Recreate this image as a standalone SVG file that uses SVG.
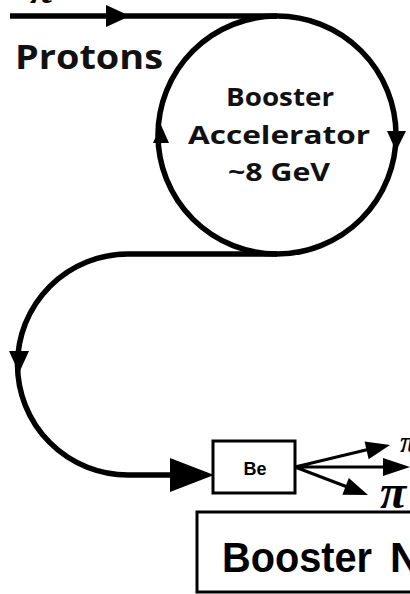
<svg xmlns="http://www.w3.org/2000/svg" width="410" height="594" viewBox="0 0 410 594">
<style>
.ln{fill:none;stroke:#000;stroke-width:5.5}
.thin{fill:none;stroke:#000;stroke-width:3}
.ah{fill:#000;stroke:none}
.lbl{font-family:"Open Sans","Liberation Sans",sans-serif;font-weight:700;fill:#111}
.ar{font-family:"Liberation Sans",Arial,sans-serif;font-weight:700;fill:#000}
.pi{font-family:"Liberation Serif","DejaVu Serif",serif;font-style:italic;font-weight:700;fill:#000}
</style>
<rect width="410" height="594" fill="#fff"/>
<g id="connectors">
  <path class="ln" d="M10 16 H277"/>
  <polygon class="ah" points="106,5 130,16 106,27"/>
  <path class="ln" d="M277 254 H128 A110.5 110.5 0 0 0 128 475 H175"/>
  <polygon class="ah" points="19,373 9,351 29,351"/>
  <polygon class="ah" points="170,458 214,475 170,492"/>
  <path class="thin" d="M295 467 L370 449 M295 467 L388 467 M295 467 L350 488"/>
  <polygon class="ah" points="390,445 368.6,459.2 364.6,441.6"/>
  <polygon class="ah" points="410,467 383,458 383,476"/>
  <polygon class="ah" points="368,495 342.4,494.8 348.8,478"/>
</g>
<g id="booster-accelerator">
  <circle cx="277" cy="135" r="119" class="ln"/>
  <polygon class="ah" points="161,125 153,143 169,143"/>
  <polygon class="ah" points="396,151 387,131 406,131"/>
  <text class="lbl" x="280" y="106" font-size="25" text-anchor="middle" textLength="108" lengthAdjust="spacingAndGlyphs">Booster</text>
  <text class="lbl" x="279" y="144" font-size="25" text-anchor="middle" textLength="182" lengthAdjust="spacingAndGlyphs">Accelerator</text>
  <text class="lbl" x="279" y="181" font-size="25" text-anchor="middle" textLength="102" lengthAdjust="spacingAndGlyphs">~8 GeV</text>
</g>
<g id="protons">
  <text class="lbl" x="15" y="69" font-size="34" textLength="148" lengthAdjust="spacingAndGlyphs">Protons</text>
</g>
<g id="be-target">
  <rect x="213" y="441" width="82" height="52" class="thin" stroke-width="2.5"/>
  <text class="ar" x="255" y="475" font-size="18" text-anchor="middle">Be</text>
</g>
<g id="labels">
  <text class="pi" x="30" y="3" font-size="44">π</text>
  <text class="pi" x="400" y="452" font-size="30">π</text>
  <text class="pi" x="380" y="508" font-size="48">π</text>
</g>
<g id="booster-neutrino-beam">
  <rect x="197" y="512" width="240" height="80" class="thin"/>
  <text class="ar" x="222" y="572" font-size="42"><tspan textLength="150" lengthAdjust="spacingAndGlyphs">Booster</tspan> <tspan x="390">N</tspan></text>
</g>
</svg>
